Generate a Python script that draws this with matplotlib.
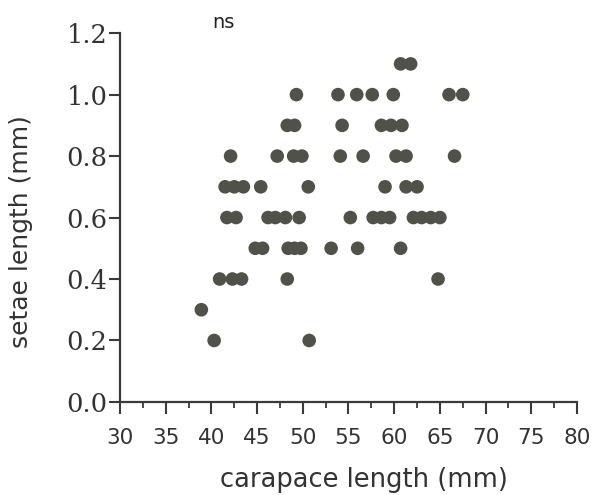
import matplotlib
matplotlib.use("Agg")
import matplotlib.pyplot as plt
from matplotlib.ticker import MultipleLocator

# carapace length (mm) for each setae-length class
carapace_11 = [60.7, 61.8]
carapace_10 = [49.3, 53.85, 55.9, 57.6, 59.9, 66.0, 67.5]
carapace_09 = [48.3, 49.1, 54.3, 58.6, 59.65, 60.85]
carapace_08 = [42.1, 47.2, 49.0, 49.9, 54.1, 56.6, 60.2, 61.3, 66.6]
carapace_07 = [41.5, 42.5, 43.5, 45.4, 50.6, 59.0, 61.3, 62.5]
carapace_06 = [41.7, 42.7, 46.2, 47.0, 48.1, 49.6, 55.2, 57.7, 58.6, 59.5,
               62.1, 63.0, 64.0, 65.0]
carapace_05 = [44.8, 45.6, 48.4, 49.1, 49.8, 53.1, 56.0, 60.7]
carapace_04 = [40.9, 42.3, 43.3, 48.3, 64.8]
carapace_03 = [38.9]
carapace_02 = [40.3, 50.7]

setae_levels = [1.1, 1.0, 0.9, 0.8, 0.7, 0.6, 0.5, 0.4, 0.3, 0.2]
carapace_groups = [carapace_11, carapace_10, carapace_09, carapace_08,
                   carapace_07, carapace_06, carapace_05, carapace_04,
                   carapace_03, carapace_02]

x_ticks = [30, 35, 40, 45, 50, 55, 60, 65, 70, 75, 80]
y_ticks = [0.0, 0.2, 0.4, 0.6, 0.8, 1.0, 1.2]

xs, ys = [], []
for level, group in zip(setae_levels, carapace_groups):
    xs.extend(group)
    ys.extend([level] * len(group))

fig = plt.figure(figsize=(5.97, 4.95), dpi=100)
ax = fig.add_axes([0.201, 0.188, 0.7655, 0.745])

ax.scatter(xs, ys, s=96, color="#50524a", edgecolors="none", zorder=3,
           clip_on=False)

ax.set_xlim(30, 80)
ax.set_ylim(0, 1.2)
ax.set_xticks(x_ticks)
ax.set_yticks(y_ticks)
ax.xaxis.set_minor_locator(MultipleLocator(2.5))
ax.set_yticklabels([f"{v:.1f}" for v in y_ticks], family="DejaVu Serif",
                   fontsize=18.5)
ax.set_xticklabels([str(v) for v in x_ticks], family="DejaVu Sans",
                   fontsize=15.5)

for side in ("top", "right"):
    ax.spines[side].set_visible(False)
for side in ("left", "bottom"):
    ax.spines[side].set_linewidth(1.6)
    ax.spines[side].set_color("#3a3a3a")

ax.tick_params(axis="y", direction="out", length=8, width=1.5,
               color="#3a3a3a", pad=1, labelcolor="#333333")
ax.tick_params(axis="x", which="major", direction="out", length=8.5,
               width=1.5, color="#3a3a3a", pad=10, labelcolor="#333333")
ax.tick_params(axis="x", which="minor", direction="out", length=4,
               width=1.3, color="#3a3a3a")

ax.set_xlabel("carapace length (mm)", fontsize=18.5, color="#333333")
ax.xaxis.set_label_coords(0.534, -0.176)
ax.set_ylabel("setae length (mm)", fontsize=18, color="#333333")
ax.yaxis.set_label_coords(-0.19, 0.463)

fig.text(0.355, 0.955, "ns", fontsize=14, color="#222222", ha="left",
         va="center")

fig.savefig("out.png", dpi=100, facecolor="white")
